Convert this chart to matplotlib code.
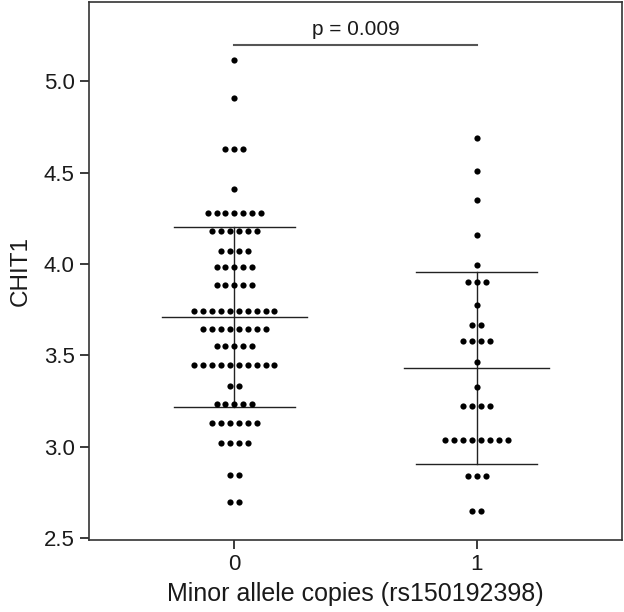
import numpy as np
import matplotlib
matplotlib.use('Agg')
import matplotlib.pyplot as plt

plt.rcParams['font.family'] = ['Liberation Sans', 'DejaVu Sans']

# binned values (bin centre) and number of dots in each bin
g0_vals = [5.115, 4.907, 4.633, 4.410, 4.282, 4.182, 4.074, 3.982, 3.888, 3.741,
           3.647, 3.552, 3.449, 3.333, 3.232, 3.132, 3.020, 2.845, 2.699]
g0_counts = [1, 1, 3, 1, 7, 6, 4, 5, 5, 10, 8, 5, 10, 2, 5, 6, 4, 2, 2]
g1_vals = [4.69, 4.511, 4.350, 4.160, 3.996, 3.904, 3.776, 3.668, 3.581, 3.466,
           3.329, 3.221, 3.040, 2.843, 2.648]
g1_counts = [1, 1, 1, 1, 1, 3, 1, 2, 4, 1, 1, 4, 8, 3, 2]

groups = ['0', '1']
p_label = 'p = 0.009'

fig = plt.figure(figsize=(6.24, 6.12), dpi=100)
ax = fig.add_axes([89 / 624, 1 - 540 / 612, 533 / 624, 538 / 612])

dx = 0.0368  # horizontal spacing between stacked dots
for i, (vals, counts) in enumerate([(g0_vals, g0_counts), (g1_vals, g1_counts)]):
    xs, ys = [], []
    for v, c in zip(vals, counts):
        offs = (np.arange(c) - (c - 1) / 2.) * dx
        xs.extend(i + offs)
        ys.extend([v] * c)
    ax.scatter(xs, ys, s=20, color='black', zorder=3, linewidths=0)

    # mean +/- SD
    data = np.repeat(vals, counts)
    m = data.mean()
    sd = data.std(ddof=1)
    ax.plot([i - 0.3, i + 0.3], [m, m], color='#222222', lw=1.0, zorder=2)
    ax.plot([i - 0.25, i + 0.25], [m + sd, m + sd], color='#222222', lw=1.0, zorder=2)
    ax.plot([i - 0.25, i + 0.25], [m - sd, m - sd], color='#222222', lw=1.0, zorder=2)
    ax.plot([i, i], [m - sd, m + sd], color='#222222', lw=1.0, zorder=2)

# significance bar
ax.plot([0, 1], [5.2, 5.2], color='#555555', lw=1.5)
ax.text(0.5, 5.235, p_label, ha='center', va='bottom', fontsize=15, color='#1a1a1a')

ax.set_xlim(-0.6, 1.6)
ax.set_ylim(2.49, 5.435)
ax.set_xticks([0, 1])
ax.set_xticklabels(groups)
ax.set_yticks([2.5, 3.0, 3.5, 4.0, 4.5, 5.0])
ax.set_yticklabels(['2.5', '3.0', '3.5', '4.0', '4.5', '5.0'])
ax.tick_params(labelsize=16, colors='#1a1a1a', length=6.2, width=1.2, pad=4)
for s in ax.spines.values():
    s.set_color('#333333')
    s.set_linewidth(1.2)

ax.set_xlabel('Minor allele copies (rs150192398)', fontsize=18, color='#1a1a1a', labelpad=5)
ax.set_ylabel('CHIT1', fontsize=17.5, color='#1a1a1a', labelpad=9)

fig.savefig('out.png', dpi=100)
